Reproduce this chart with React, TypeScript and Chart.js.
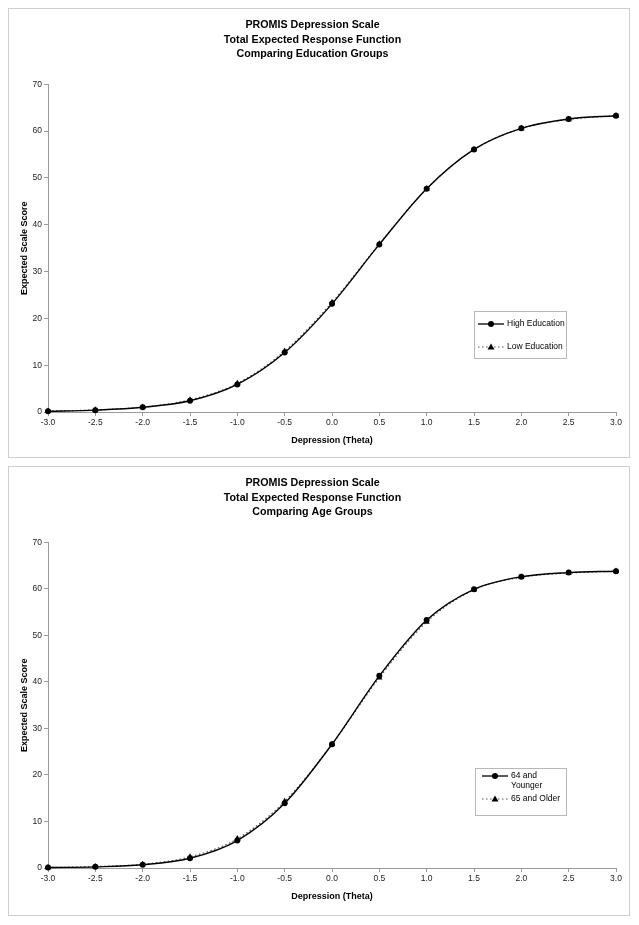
import React, { useEffect, useRef } from "react";
import { Chart, registerables } from "chart.js";

Chart.register(...registerables);

// ---- data ----
const theta = [-3.0, -2.5, -2.0, -1.5, -1.0, -0.5, 0.0, 0.5, 1.0, 1.5, 2.0, 2.5, 3.0];

const highEducation = [0.15, 0.4, 1.0, 2.4, 5.9, 12.7, 23.1, 35.8, 47.7, 56.1, 60.6, 62.6, 63.3];
const lowEducation = [0.2, 0.45, 1.05, 2.6, 6.1, 13.0, 23.4, 35.9, 47.7, 56.1, 60.6, 62.5, 63.3];

const age64Younger = [0.1, 0.25, 0.7, 2.1, 5.9, 13.9, 26.6, 41.3, 53.3, 59.9, 62.6, 63.5, 63.8];
const age65Older = [0.1, 0.3, 0.8, 2.4, 6.3, 14.3, 26.6, 40.9, 52.9, 59.8, 62.5, 63.4, 63.8];

const titleEducation = ["PROMIS Depression Scale", "Total Expected Response Function", "Comparing Education Groups"];
const titleAge = ["PROMIS Depression Scale", "Total Expected Response Function", "Comparing Age Groups"];

const legendEducation = [["High Education"], ["Low Education"]];
const legendAge = [["64 and", "Younger"], ["65 and Older"]];

const xAxisTitle = "Depression (Theta)";
const yAxisTitle = "Expected Scale Score";

const FONT = "'Liberation Sans', Arial, Helvetica, sans-serif";
const CW = 620;
const CH = 448;

type LegendSpec = {
  box: [number, number, number, number];
  lineX: [number, number];
  markerX: number;
  textX: number;
  entries: { lines: string[]; y: number; dashed: boolean; marker: "circle" | "triangle" }[];
};

function drawMarker(ctx: CanvasRenderingContext2D, kind: string, x: number, y: number) {
  ctx.save();
  ctx.fillStyle = "#000";
  ctx.beginPath();
  if (kind === "circle") {
    ctx.arc(x, y, 3, 0, Math.PI * 2);
  } else {
    ctx.moveTo(x, y - 3.6);
    ctx.lineTo(x + 3.5, y + 2.6);
    ctx.lineTo(x - 3.5, y + 2.6);
    ctx.closePath();
  }
  ctx.fill();
  ctx.restore();
}

const boxLegendPlugin = {
  id: "boxLegend",
  afterDraw(chart: any, _args: any, opts: any) {
    const spec: LegendSpec | undefined = opts && opts.spec;
    if (!spec) return;
    const ctx: CanvasRenderingContext2D = chart.ctx;
    ctx.save();
    const [bx, by, bw, bh] = spec.box;
    ctx.fillStyle = "#fff";
    ctx.fillRect(bx, by, bw, bh);
    ctx.strokeStyle = "#b8b8b8";
    ctx.lineWidth = 1;
    ctx.strokeRect(bx + 0.5, by + 0.5, bw, bh);
    ctx.font = `8.5px ${FONT}`;
    ctx.textBaseline = "middle";
    ctx.textAlign = "left";
    for (const e of spec.entries) {
      ctx.beginPath();
      if (e.dashed) {
        ctx.setLineDash([1.5, 2.5]);
        ctx.strokeStyle = "#555";
        ctx.lineWidth = 1.2;
      } else {
        ctx.setLineDash([]);
        ctx.strokeStyle = "#000";
        ctx.lineWidth = 1.3;
      }
      ctx.moveTo(spec.lineX[0], e.y);
      ctx.lineTo(spec.lineX[1], e.y);
      ctx.stroke();
      ctx.setLineDash([]);
      drawMarker(ctx, e.marker, spec.markerX, e.y);
      ctx.fillStyle = "#000";
      e.lines.forEach((ln, i) => ctx.fillText(ln, spec.textX, e.y + i * 10));
    }
    ctx.restore();
  },
};

type Props = {
  title: string[];
  series: { label: string; data: number[]; dashed: boolean; marker: "circle" | "triangle" }[];
  legend: LegendSpec;
  xScaleHeight: number;
  bottomPad: number;
};

function ChartBox({ title, series, legend, xScaleHeight, bottomPad }: Props) {
  const ref = useRef<HTMLCanvasElement | null>(null);
  useEffect(() => {
    if (!ref.current) return;
    const chart = new Chart(ref.current, {
      type: "line",
      data: {
        datasets: series.map((s) => ({
          label: s.label,
          data: theta.map((t, i) => ({ x: t, y: s.data[i] })),
          borderColor: s.dashed ? "#555" : "#000",
          borderWidth: s.dashed ? 1.2 : 1.4,
          borderDash: s.dashed ? [1.5, 2.5] : [],
          pointStyle: s.marker,
          pointRadius: s.marker === "circle" ? 3 : 3.6,
          pointBackgroundColor: "#000",
          pointBorderColor: "#000",
          pointBorderWidth: 0,
          cubicInterpolationMode: "monotone",
          fill: false,
          clip: false,
        })),
      },
      options: {
        responsive: false,
        animation: false,
        events: [],
        layout: { padding: { top: 0, left: 0, right: 13, bottom: bottomPad } },
        plugins: {
          legend: { display: false },
          tooltip: { enabled: false },
          title: {
            display: true,
            text: title,
            color: "#000",
            font: { family: FONT, size: 10.7, weight: "bold", lineHeight: 1.35 },
            padding: { top: 9, bottom: 23 },
          },
          boxLegend: { spec: legend },
        } as any,
        scales: {
          x: {
            type: "linear",
            min: -3,
            max: 3,
            afterFit: (scale: any) => {
              scale.height = xScaleHeight;
            },
            ticks: {
              stepSize: 0.5,
              autoSkip: false,
              maxRotation: 0,
              padding: 2,
              color: "#222",
              font: { family: FONT, size: 8.5 },
              callback: (v: any) => Number(v).toFixed(1),
            },
            grid: { display: true, drawOnChartArea: false, drawTicks: true, tickLength: 4, color: "#9a9a9a" },
            border: { display: true, color: "#9a9a9a", width: 1 },
            title: {
              display: true,
              text: xAxisTitle,
              color: "#000",
              font: { family: FONT, size: 9, weight: "bold", lineHeight: 1.2 },
              padding: { top: 0, bottom: 4 },
            },
          },
          y: {
            type: "linear",
            min: 0,
            max: 70,
            afterFit: (scale: any) => {
              scale.width = 39;
            },
            ticks: {
              stepSize: 10,
              padding: 2,
              color: "#222",
              font: { family: FONT, size: 8.5 },
            },
            grid: { display: true, drawOnChartArea: false, drawTicks: true, tickLength: 4, color: "#9a9a9a" },
            border: { display: true, color: "#9a9a9a", width: 1 },
            title: {
              display: true,
              text: yAxisTitle,
              color: "#000",
              font: { family: FONT, size: 9, weight: "bold", lineHeight: 1.2 },
              padding: { top: 10, bottom: 0 },
            },
          },
        },
      } as any,
      plugins: [boxLegendPlugin],
    });
    return () => chart.destroy();
  }, []);
  return (
    <div style={{ width: CW, height: CH, border: "1px solid #cfcfcf", marginBottom: 8, background: "#fff" }}>
      <canvas ref={ref} width={CW} height={CH} style={{ display: "block", width: CW, height: CH }} />
    </div>
  );
}

export default function App() {
  return (
    <div>
      <ChartBox
        title={titleEducation}
        series={[
          { label: "High Education", data: highEducation, dashed: false, marker: "circle" },
          { label: "Low Education", data: lowEducation, dashed: true, marker: "triangle" },
        ]}
        legend={{
          box: [465, 302, 92, 47],
          lineX: [469, 495],
          markerX: 482,
          textX: 498,
          entries: [
            { lines: legendEducation[0], y: 315, dashed: false, marker: "circle" },
            { lines: legendEducation[1], y: 338, dashed: true, marker: "triangle" },
          ],
        }}
        xScaleHeight={38}
        bottomPad={7}
      />
      <ChartBox
        title={titleAge}
        series={[
          { label: "64 and Younger", data: age64Younger, dashed: false, marker: "circle" },
          { label: "65 and Older", data: age65Older, dashed: true, marker: "triangle" },
        ]}
        legend={{
          box: [466, 301, 91, 47],
          lineX: [473, 499],
          markerX: 486,
          textX: 502,
          entries: [
            { lines: legendAge[0], y: 309, dashed: false, marker: "circle" },
            { lines: legendAge[1], y: 332, dashed: true, marker: "triangle" },
          ],
        }}
        xScaleHeight={38}
        bottomPad={9}
      />
    </div>
  );
}
